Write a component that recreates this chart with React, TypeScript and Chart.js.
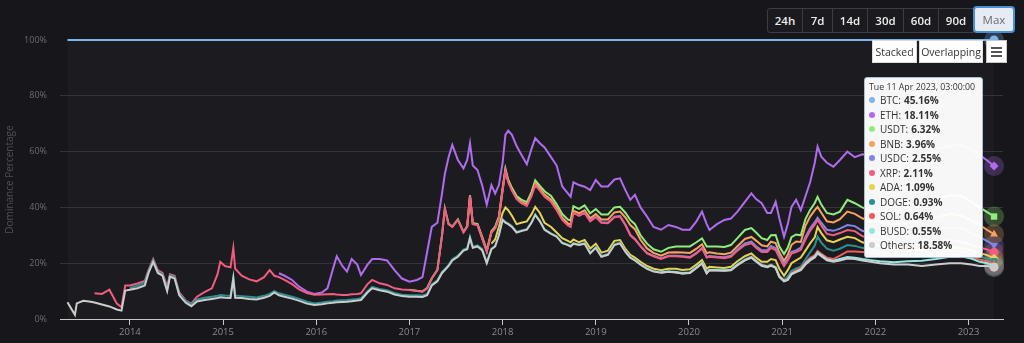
import React, { useEffect, useRef } from 'react';
import { Chart, registerables } from 'chart.js';

Chart.register(...registerables);

const nulls = (n: number): (number | null)[] => Array(n).fill(null);

// decimal-year dates of samples
const dates = [
  2013.33, 2013.41, 2013.43, 2013.5, 2013.58, 2013.62, 2013.7, 2013.78, 2013.86, 2013.91, 2013.95,
  2014.0, 2014.08, 2014.16, 2014.2, 2014.25, 2014.3, 2014.35, 2014.4, 2014.43, 2014.48, 2014.53, 2014.6, 2014.66, 2014.72, 2014.8, 2014.88, 2014.94, 2014.97, 2015.02, 2015.08, 2015.11, 2015.13, 2015.2, 2015.28, 2015.36, 2015.44, 2015.5, 2015.55,
  2015.6, 2015.66, 2015.74, 2015.82, 2015.9, 2015.98, 2016.06, 2016.12, 2016.18, 2016.22, 2016.28, 2016.33, 2016.38, 2016.44, 2016.48, 2016.55, 2016.6, 2016.68, 2016.76, 2016.84, 2016.92,
  2017.0, 2017.08, 2017.14, 2017.19, 2017.24, 2017.3, 2017.35, 2017.38, 2017.42, 2017.46, 2017.52, 2017.58, 2017.62, 2017.65, 2017.68, 2017.73, 2017.78, 2017.83,
  2017.88, 2017.92, 2017.96, 2018.0, 2018.03, 2018.06, 2018.1, 2018.15, 2018.2, 2018.26, 2018.31, 2018.35, 2018.4, 2018.45, 2018.52, 2018.58, 2018.64, 2018.7, 2018.73, 2018.76,
  2018.82, 2018.88, 2018.94, 2019.0, 2019.06, 2019.13, 2019.2, 2019.26, 2019.32, 2019.37, 2019.42, 2019.48, 2019.55, 2019.62,
  2019.7, 2019.78, 2019.86, 2019.93, 2020.01, 2020.08, 2020.14, 2020.19, 2020.22, 2020.3, 2020.38, 2020.45, 2020.52,
  2020.6, 2020.67, 2020.72, 2020.78, 2020.84, 2020.88, 2020.93, 2020.97, 2021.02, 2021.06, 2021.1, 2021.15, 2021.2, 2021.25, 2021.3, 2021.35, 2021.38, 2021.42, 2021.48, 2021.55, 2021.62, 2021.7, 2021.78, 2021.86, 2021.95, 2022.05, 2022.2, 2022.35, 2022.5, 2022.65, 2022.8, 2022.92, 2023.03, 2023.12, 2023.2, 2023.274,
];

const OTHERS = [
  6.0, 1.5, 5.6, 6.5, 6.2, 5.9, 5.2, 4.5, 3.4, 3.0, 10.2,
  10.5, 11.0, 12.0, 16.5, 20.5, 16.5, 15.5, 10.0, 15.2, 14.5, 8.5, 5.8, 4.6, 6.3, 6.8, 7.2, 7.5, 7.8, 7.6, 7.5, 14.5, 7.6, 7.5, 7.2, 7.0, 7.6, 8.3, 9.5,
  8.5, 8.0, 7.3, 6.5, 5.5, 5.0, 5.3, 5.6, 5.8, 6.0, 6.1, 6.2, 6.4, 6.6, 6.8, 9.5, 11.0, 10.3, 9.8, 8.8, 8.2,
  8.0, 8.0, 7.9, 8.5, 12.0, 13.5, 16.5, 17.5, 19.0, 21.0, 22.3, 24.5, 25.0, 29.0, 25.5, 26.0, 24.7, 20.0,
  25.0, 26.0, 30.0, 35.5, 34.5, 34.0, 33.0, 31.0, 31.5, 32.0, 34.5, 37.3, 35.0, 32.0, 30.5, 29.5, 27.2, 26.5, 26.0, 27.0,
  26.5, 27.0, 23.5, 25.5, 22.3, 23.0, 26.5, 27.1, 24.0, 22.0, 21.0, 19.5, 18.0, 17.0,
  16.6, 16.9, 16.7, 16.3, 16.5, 18.3, 19.9, 16.4, 17.5, 17.4, 17.3, 17.5, 19.3,
  21.0, 22.0, 20.6, 19.1, 18.6, 19.1, 18.3, 15.1, 13.5, 14.0, 16.0, 16.8, 17.5, 19.5, 21.0, 22.0, 23.5, 22.5, 21.0, 20.5, 21.0, 21.7, 21.5, 21.0, 20.5, 20.0, 19.5, 19.5, 19.0, 19.5, 20.0, 20.0, 19.5, 19.0, 19.0, 18.58,
];

const BUSD = [
  ...nulls(112),
  0.05, 0.05, 0.05, 0.05, 0.05, 0.05, 0.05, 0.05, 0.05, 0.05, 0.05, 0.05, 0.1,
  0.1, 0.1, 0.1, 0.1, 0.1, 0.1, 0.1, 0.1, 0.1, 0.1, 0.2, 0.2, 0.3, 0.3, 0.4, 0.4, 0.4, 0.4, 0.4, 0.4, 0.5, 0.5, 0.5, 0.5, 0.6, 0.7, 0.8, 1.2, 1.9, 2.0, 2.3, 2.5, 2.2, 1.5, 1.0, 0.55,
];

const SOL = [
  ...nulls(125),
  0.1, 0.1, 0.1, 0.1, 0.1, 0.1, 0.1, 0.1, 0.1, 0.2, 0.3, 0.4, 0.4, 0.5, 0.5, 0.5, 0.5, 0.5, 0.6, 0.6, 1.2, 2.0, 2.2, 2.5, 2.6, 2.3, 2.0, 1.5, 1.3, 1.3, 1.1, 0.5, 0.7, 0.8, 0.7, 0.64,
];

const DOGE = [
  ...nulls(11),
  0.6, 0.9, 1.0, 0.5, 0.5, 0.5, 0.5, 0.5, 0.5, 0.5, 0.5, 0.6, 0.6, 0.7, 0.8, 0.8, 0.8, 0.8, 0.8, 0.8, 0.5, 0.8, 0.7, 0.8, 0.7, 0.7, 0.7, 0.5,
  0.7, 0.7, 0.7, 0.7, 0.7, 0.6, 0.6, 0.6, 0.6, 0.6, 0.6, 0.6, 0.6, 0.6, 0.6, 0.5, 0.5, 0.5, 0.5, 0.5, 0.5,
  0.5, 0.5, 0.5, 0.5, 0.4, 0.4, 0.4, 0.4, 0.4, 0.4, 0.4, 0.4, 0.4, 0.4, 0.4, 0.4, 0.4, 0.4,
  0.2, 0.2, 0.2, 0.3, 0.3, 0.3, 0.3, 0.2, 0.2, 0.2, 0.2, 0.2, 0.2, 0.2, 0.2, 0.2, 0.2, 0.2, 0.2, 0.2,
  0.2, 0.2, 0.3, 0.3, 0.3, 0.3, 0.3, 0.3, 0.2, 0.2, 0.2, 0.2, 0.2, 0.2,
  0.2, 0.2, 0.2, 0.2, 0.2, 0.2, 0.2, 0.2, 0.2, 0.2, 0.2, 0.2, 0.2,
  0.2, 0.2, 0.2, 0.2, 0.2, 0.2, 0.2, 0.2, 0.3, 1.0, 0.8, 0.7, 0.6, 1.0, 2.0, 3.4, 5.1, 4.0, 3.2, 3.0, 2.5, 2.3, 2.0, 1.5, 1.2, 1.0, 0.9, 0.8, 0.8, 0.8, 1.2, 1.3, 1.0, 1.0, 1.0, 0.93,
];

const ADA = [
  ...nulls(78),
  1.8, 2.3, 2.8, 2.2, 5.2, 4.7, 3.7, 2.8, 2.8, 2.8, 2.8, 2.7, 2.8, 2.3, 2.3, 1.3, 1.6, 1.3, 1.3, 1.3,
  0.8, 1.1, 1.5, 1.2, 1.2, 1.2, 1.2, 0.9, 0.8, 0.8, 0.8, 0.8, 0.8, 0.8,
  0.65, 0.85, 1.05, 1.05, 1.05, 0.95, 0.95, 1.35, 0.95, 0.85, 0.75, 0.95, 1.1,
  1.1, 1.1, 1.0, 1.0, 1.5, 2.0, 2.4, 2.5, 1.5, 2.2, 2.7, 2.9, 3.2, 3.2, 3.2, 3.0, 3.5, 3.4, 3.0, 3.0, 3.3, 3.0, 2.8, 2.0, 1.9, 2.2, 2.1, 1.5, 1.7, 1.5, 1.3, 1.1, 1.2, 1.3, 1.2, 1.09,
];

const XRP = [
  ...nulls(5),
  3.3, 3.8, 6.0, 2.1, 1.2, 1.8,
  0.9, 0.8, 0.6, 0.5, 0.5, 0.5, 0.5, 1.0, 0.3, 0.5, 0.5, 0.2, 0.3, 1.0, 2.0, 3.0, 7.7, 11.9, 10.6, 10.2, 10.5, 9.6, 7.3, 6.2, 5.8, 6.7, 8.5, 5.5,
  5.8, 5.3, 4.5, 3.3, 3.1, 3.1, 2.9, 2.7, 2.6, 2.2, 1.9, 1.8, 1.9, 1.8, 1.8, 2.5, 2.5, 2.0, 1.9, 1.7, 1.9,
  1.9, 1.5, 1.4, 2.0, 2.1, 3.6, 13.1, 21.6, 14.6, 11.6, 12.8, 6.1, 7.6, 14.6, 8.1, 7.3, 3.9, 3.7,
  4.0, 4.0, 3.0, 8.0, 13.0, 10.0, 9.0, 9.0, 7.0, 5.5, 6.5, 7.8, 8.0, 9.3, 9.0, 8.0, 6.5, 5.5, 5.5, 9.5,
  9.5, 9.7, 9.7, 9.5, 10.7, 9.8, 8.5, 8.4, 8.5, 7.0, 6.5, 5.5, 4.5, 4.5,
  4.0, 4.5, 4.5, 4.7, 4.2, 4.0, 4.2, 4.0, 3.6, 3.5, 3.5, 3.6, 3.8,
  4.0, 3.6, 3.5, 3.5, 3.5, 4.0, 3.6, 4.0, 3.5, 3.5, 3.5, 3.0, 2.8, 4.0, 4.5, 4.5, 2.5, 2.7, 2.3, 2.5, 2.3, 2.4, 2.5, 2.2, 2.0, 2.2, 2.0, 1.8, 1.7, 1.9, 2.5, 2.2, 2.0, 2.0, 2.0, 2.11,
];

const USDC = [
  ...nulls(98),
  0.1, 0.1, 0.2, 0.2, 0.2, 0.2, 0.2, 0.2, 0.2, 0.2, 0.2, 0.2, 0.2, 0.2,
  0.2, 0.2, 0.2, 0.2, 0.2, 0.2, 0.2, 0.2, 0.3, 0.3, 0.3, 0.4, 0.4,
  0.6, 0.6, 0.6, 0.6, 0.6, 0.7, 0.7, 0.6, 0.6, 0.6, 0.6, 0.6, 0.8, 0.9, 0.9, 0.9, 0.8, 1.0, 1.5, 1.6, 1.6, 1.8, 1.8, 1.9, 2.0, 2.3, 2.7, 4.0, 5.5, 5.0, 4.5, 5.0, 4.3, 3.8, 3.0, 2.55,
];

const BNB = [
  ...nulls(72),
  0.1, 0.1, 0.1, 0.1, 0.1, 0.1,
  0.1, 0.1, 0.2, 0.3, 0.3, 0.3, 0.4, 0.4, 0.5, 0.5, 0.6, 0.7, 0.7, 0.8, 0.8, 0.8, 0.8, 0.8, 0.8, 0.8,
  0.8, 0.9, 0.9, 0.9, 1.0, 1.2, 1.5, 1.6, 2.6, 3.5, 3.5, 2.2, 1.6, 1.0,
  1.0, 1.1, 1.2, 1.3, 1.5, 1.5, 1.3, 1.4, 1.3, 1.2, 1.1, 1.1, 1.2,
  1.6, 1.7, 2.0, 1.8, 1.4, 1.5, 1.8, 1.2, 1.2, 1.4, 2.5, 3.2, 2.0, 4.0, 4.2, 4.3, 3.9, 3.6, 3.0, 3.0, 3.4, 4.8, 4.4, 4.5, 4.2, 4.0, 3.9, 4.0, 4.0, 4.3, 4.8, 4.5, 4.4, 4.3, 4.0, 3.96,
];

const USDT = [
  ...nulls(60),
  0.1, 0.1, 0.1, 0.1, 0.1, 0.1, 0.1, 0.1, 0.1, 0.1, 0.2, 0.2, 0.2, 0.2, 0.2, 0.3, 0.4, 0.4,
  0.4, 0.5, 0.5, 0.6, 0.6, 0.6, 0.6, 0.7, 0.8, 0.9, 0.9, 1.0, 1.0, 1.2, 1.3, 1.3, 1.3, 1.4, 1.5, 1.6,
  1.6, 1.7, 1.8, 1.8, 1.8, 1.8, 1.8, 1.7, 1.7, 1.8, 1.8, 1.6, 1.7, 1.3,
  1.4, 1.7, 2.1, 2.2, 2.3, 2.3, 2.1, 2.4, 2.1, 2.5, 2.6, 2.7, 2.9,
  3.2, 3.2, 2.9, 2.6, 2.3, 2.3, 2.9, 2.2, 2.5, 2.5, 2.7, 2.5, 2.4, 2.4, 2.4, 2.6, 3.6, 2.9, 3.0, 2.9, 2.7, 4.2, 3.8, 3.9, 3.7, 4.1, 4.2, 6.0, 6.9, 6.7, 6.6, 7.0, 6.7, 6.3, 6.4, 6.32,
];

const ETH = [
  ...nulls(39),
  1.4, 1.5, 1.5, 1.0, 0.5, 0.3, 0.7, 2.1, 9.0, 13.7, 10.4, 8.4, 12.6, 10.5, 6.6, 7.0, 7.5, 8.7, 8.8, 6.5, 3.9,
  2.9, 3.9, 5.1, 12.9, 18.4, 16.9, 14.9, 12.4, 23.9, 29.3, 21.3, 22.8, 23.7, 18.7, 20.7, 19.3, 18.5, 16.4,
  16.5, 11.9, 11.3, 9.1, 12.1, 17.6, 19.0, 17.9, 16.2, 13.6, 15.5, 15.1, 15.3, 15.7, 13.9, 13.9, 9.9, 9.3, 8.5, 8.6,
  8.5, 6.7, 8.3, 10.4, 10.0, 10.0, 10.0, 10.2, 8.0, 7.2, 10.5, 10.0, 9.7, 8.0,
  7.9, 8.2, 7.0, 6.0, 6.0, 7.5, 9.6, 8.0, 5.9, 8.0, 9.7, 9.5, 9.5,
  10.1, 12.4, 12.0, 12.5, 9.7, 8.0, 11.9, 10.0, 6.2, 8.5, 10.9, 12.4, 9.0, 8.2, 9.9, 14.4, 18.0, 17.2, 18.0, 17.1, 18.5, 17.3, 16.5, 19.0, 20.0, 18.5, 17.8, 16.0, 15.5, 18.0, 17.5, 18.5, 18.5, 18.8, 18.5, 18.11,
];

const BTC = [
  94.0, 98.5, 94.4, 93.5, 93.8, 90.8, 91.0, 89.5, 94.5, 95.8, 88.0,
  88.0, 87.3, 86.4, 82.5, 78.5, 82.5, 83.5, 88.5, 84.0, 84.5, 90.5, 93.4, 94.5, 92.0, 90.4, 89.0, 84.0, 79.5, 81.0, 81.5, 74.5, 82.0, 84.5, 85.8, 86.5, 85.0, 82.5, 84.5,
  83.6, 84.5, 86.0, 88.5, 90.2, 91.0, 90.5, 89.0, 82.0, 77.5, 81.0, 83.0, 78.5, 80.5, 84.2, 80.5, 78.5, 78.5, 79.0, 82.5, 85.5,
  86.6, 86.0, 85.0, 76.0, 67.0, 65.5, 55.0, 48.0, 42.0, 37.6, 43.0, 46.0, 43.0, 37.0, 45.0, 46.6, 52.0, 59.0,
  52.0, 55.0, 52.0, 44.0, 34.0, 32.5, 34.0, 38.0, 41.0, 44.5, 39.0, 35.2, 37.0, 38.5, 42.0, 45.0, 52.5, 55.0, 56.2, 51.0,
  52.0, 52.6, 53.8, 50.2, 52.5, 52.5, 50.0, 49.6, 54.0, 57.3, 55.5, 60.0, 63.3, 67.0,
  68.0, 66.3, 67.0, 68.0, 68.0, 65.0, 61.5, 66.0, 68.1, 66.0, 64.5, 64.0, 61.5,
  58.0, 55.0, 57.0, 58.5, 62.0, 62.0, 58.0, 64.0, 70.5, 66.0, 59.8, 57.3, 61.0, 56.0, 51.0, 44.0, 38.2, 41.8, 44.0, 45.4, 43.0, 40.0, 42.0, 41.0, 41.3, 42.7, 44.1, 43.7, 41.7, 39.0, 38.2, 37.4, 39.5, 41.2, 43.2, 45.16,
];

const X_MIN = 2013.25;
const X_MAX = 2023.37;
const Y_TICKS_STEP = 20;

const RANGE_BUTTONS = ['24h', '7d', '14d', '30d', '60d', '90d', 'Max'];
const RANGE_WIDTHS = [35, 30, 35, 36, 35, 35, 42];
const TOOLTIP_TITLE = 'Tue 11 Apr 2023, 03:00:00';

const PAGE_BG = '#17171b';
const PLOT_BG = '#1c1c20';
const FONT = "'Open Sans', sans-serif";

type Series = { label: string; data: (number | null)[]; color: string; style: string; rot: number };

// bottom-to-top stacking order
const SERIES: Series[] = [
  { label: 'Others', data: OTHERS, color: '#cccccc', style: 'circle', rot: 0 },
  { label: 'BUSD', data: BUSD, color: '#91e8e1', style: 'triangle', rot: 180 },
  { label: 'SOL', data: SOL, color: '#f45b5b', style: 'triangle', rot: 0 },
  { label: 'DOGE', data: DOGE, color: '#2b908f', style: 'rect', rot: 0 },
  { label: 'ADA', data: ADA, color: '#e4d354', style: 'rectRot', rot: 0 },
  { label: 'XRP', data: XRP, color: '#f15c80', style: 'circle', rot: 0 },
  { label: 'USDC', data: USDC, color: '#8085e9', style: 'triangle', rot: 180 },
  { label: 'BNB', data: BNB, color: '#f7a35c', style: 'triangle', rot: 0 },
  { label: 'USDT', data: USDT, color: '#90ed7d', style: 'rect', rot: 0 },
  { label: 'ETH', data: ETH, color: '#b06bef', style: 'rectRot', rot: 0 },
  { label: 'BTC', data: BTC, color: '#7cb5ec', style: 'circle', rot: 0 },
];

const hexA = (hex: string, a: number) => {
  const n = parseInt(hex.slice(1), 16);
  return `rgba(${(n >> 16) & 255},${(n >> 8) & 255},${n & 255},${a})`;
};

const LAST = dates.length - 1;

const bgPlugin = {
  id: 'plotBg',
  beforeDraw(chart: any) {
    const { ctx, chartArea, scales } = chart;
    ctx.save();
    ctx.fillStyle = PAGE_BG;
    ctx.fillRect(0, 0, chart.width, chart.height);
    const x0 = scales.x.getPixelForValue(dates[0]);
    const x1 = scales.x.getPixelForValue(dates[LAST]);
    ctx.fillStyle = PLOT_BG;
    ctx.fillRect(x0, chartArea.top, x1 - x0, chartArea.bottom - chartArea.top);
    ctx.restore();
  },
};

const haloPlugin = {
  id: 'halo',
  beforeDatasetsDraw(chart: any) {
    const { ctx } = chart;
    ctx.save();
    chart.data.datasets.forEach((ds: any, i: number) => {
      const meta = chart.getDatasetMeta(i);
      const el = meta.data[LAST];
      if (!el) return;
      ctx.beginPath();
      ctx.fillStyle = hexA(ds.borderColor, 0.25);
      ctx.arc(el.x, el.y, 10, 0, Math.PI * 2);
      ctx.fill();
    });
    ctx.restore();
  },
};

export default function App() {
  const ref = useRef<HTMLCanvasElement>(null);

  useEffect(() => {
    const canvas = ref.current;
    if (!canvas) return;
    Chart.defaults.font.family = FONT;
    const chart = new Chart(canvas, {
      type: 'line',
      data: {
        datasets: SERIES.map((s) => ({
          label: s.label,
          data: dates.map((d, i) => ({ x: d, y: s.data[i] })),
          borderColor: s.color,
          backgroundColor: s.color,
          borderWidth: 2,
          fill: false,
          tension: 0,
          clip: false as any,
          pointStyle: s.style as any,
          pointRotation: s.rot,
          pointRadius: (ctx: any) => (ctx.dataIndex === LAST ? 4.5 : 0),
          pointBorderWidth: 0,
          pointBackgroundColor: s.color,
          pointBorderColor: s.color,
        })),
      },
      options: {
        animation: false,
        responsive: false,
        devicePixelRatio: 1,
        events: [],
        layout: { padding: { top: 40, right: 21, left: 0, bottom: 0 } },
        plugins: { legend: { display: false }, tooltip: { enabled: false } },
        scales: {
          x: {
            type: 'linear',
            min: X_MIN,
            max: X_MAX,
            ticks: {
              stepSize: 1,
              includeBounds: false,
              autoSkip: false,
              maxRotation: 0,
              padding: 2,
              color: '#8a8a8e',
              font: { size: 9.5 },
              callback: (v: any) => String(v),
            },
            grid: { drawOnChartArea: false, drawTicks: true, tickLength: 6, color: '#c8c8c8' },
            border: { color: '#c8c8c8', width: 1 },
            afterFit: (s: any) => {
              s.height = 24;
            },
          } as any,
          y: {
            stacked: true,
            min: 0,
            max: 100,
            ticks: {
              stepSize: Y_TICKS_STEP,
              padding: 13,
              color: '#6c6c70',
              font: { size: 9 },
              callback: (v: any) => `${v}%`,
            },
            grid: {
              drawTicks: false,
              color: (ctx: any) => (ctx.tick && ctx.tick.value === 100 ? 'rgba(0,0,0,0)' : '#333338'),
            },
            border: { display: false },
            title: {
              display: true,
              text: 'Dominance Percentage',
              color: '#4f4f54',
              font: { size: 10 },
              padding: { top: 4, bottom: 0 },
            },
            afterFit: (s: any) => {
              s.width = 60;
            },
          } as any,
        },
      },
      plugins: [bgPlugin, haloPlugin],
    });
    return () => chart.destroy();
  }, []);

  const tipRows = [...SERIES].reverse();
  let bx = 767;

  return (
    <div
      style={{
        position: 'fixed',
        left: 0,
        top: 0,
        width: 1024,
        height: 343,
        background: PAGE_BG,
        overflow: 'hidden',
        fontFamily: FONT,
      }}
    >
      <canvas ref={ref} width={1024} height={343} style={{ position: 'absolute', left: 0, top: 0, width: 1024, height: 343 }} />

      {RANGE_BUTTONS.map((b, i) => {
        const left = bx;
        bx += RANGE_WIDTHS[i];
        const sel = b === 'Max';
        return (
          <div
            key={b}
            style={{
              position: 'absolute',
              left,
              top: sel ? 6 : 8,
              width: RANGE_WIDTHS[i] - (sel ? 4 : 1),
              height: sel ? 23 : 23,
              border: sel ? '2px solid #4a8fd8' : '1px solid #3c3c42',
              borderRadius: sel ? 4 : i === 0 ? '3px 0 0 3px' : 0,
              background: sel ? '#e7ebf3' : '#1b1b1f',
              color: sel ? '#6a6a70' : '#ececec',
              fontSize: 11.5,
              fontWeight: sel ? 400 : 600,
              display: 'flex',
              alignItems: 'center',
              justifyContent: 'center',
              boxSizing: 'content-box',
            }}
          >
            {b}
          </div>
        );
      })}

      <div
        style={{
          position: 'absolute',
          left: 872,
          top: 40,
          width: 45,
          height: 23,
          background: '#ffffff',
          color: '#333',
          fontSize: 10.5,
          display: 'flex',
          alignItems: 'center',
          justifyContent: 'center',
          boxSizing: 'border-box',
          border: '1px solid #dcdcdc',
        }}
      >
        Stacked
      </div>
      <div
        style={{
          position: 'absolute',
          left: 919,
          top: 40,
          width: 64,
          height: 23,
          background: '#ffffff',
          color: '#333',
          fontSize: 10.5,
          display: 'flex',
          alignItems: 'center',
          justifyContent: 'center',
          boxSizing: 'border-box',
          border: '1px solid #dcdcdc',
        }}
      >
        Overlapping
      </div>
      <div
        style={{
          position: 'absolute',
          left: 986,
          top: 40,
          width: 21,
          height: 23,
          background: '#ffffff',
          boxSizing: 'border-box',
          border: '1px solid #c8c8c8',
        }}
      >
        {[6, 10, 14].map((t) => (
          <div key={t} style={{ position: 'absolute', left: 4, top: t, width: 11, height: 2, background: '#555' }} />
        ))}
      </div>

      <div
        style={{
          position: 'absolute',
          left: 864,
          top: 77,
          width: 119,
          height: 181,
          background: 'rgba(255,255,255,0.97)',
          border: '1px solid #a9bfd6',
          borderRadius: 3,
          boxSizing: 'border-box',
          color: '#333',
        }}
      >
        <div style={{ position: 'absolute', left: 4, top: 3, fontSize: 8.8, lineHeight: '12px', whiteSpace: 'nowrap' }}>
          {TOOLTIP_TITLE}
        </div>
        {tipRows.map((s, i) => (
          <div
            key={s.label}
            style={{
              position: 'absolute',
              left: 4,
              top: 15 + i * 14.5,
              height: 14,
              display: 'flex',
              alignItems: 'center',
              fontSize: 10,
              lineHeight: '14px',
              whiteSpace: 'nowrap',
            }}
          >
            <span
              style={{
                display: 'inline-block',
                width: 6,
                height: 6,
                borderRadius: 3,
                background: s.color,
                marginRight: 5,
              }}
            />
            <span>{s.label}: </span>
            <b style={{ marginLeft: 3 }}>{(s.data[LAST] as number).toFixed(2)}%</b>
          </div>
        ))}
      </div>
    </div>
  );
}
